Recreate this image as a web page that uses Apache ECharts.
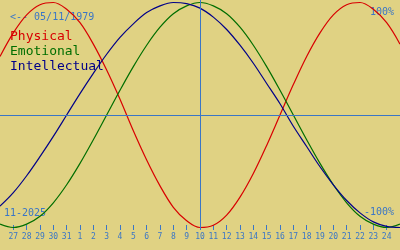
<!DOCTYPE html>
<html><head><meta charset="utf-8">
<script src="https://cdn.jsdelivr.net/npm/echarts@6/dist/echarts.min.js"></script>
<style>html,body{margin:0;padding:0;background:#e0d283}#c{width:400px;height:250px}</style>
</head><body><div id="c"></div>
<script>
var days = ['26','27','28','29','30','31','1','2','3','4','5','6','7','8','9','10','11','12','13','14','15','16','17','18','19','20','21','22','23','24','25'];
var physical = [0.52,0.73,0.89,0.98,1.00,0.94,0.82,0.63,0.40,0.14,-0.14,-0.40,-0.63,-0.82,-0.94,-1.00,-0.98,-0.89,-0.73,-0.52,-0.27,0,0.27,0.52,0.73,0.89,0.98,1.00,0.94,0.82,0.63];
var emotional = [-0.97,-1.00,-0.97,-0.90,-0.78,-0.62,-0.43,-0.22,0,0.22,0.43,0.62,0.78,0.90,0.97,1.00,0.97,0.90,0.78,0.62,0.43,0.22,0,-0.22,-0.43,-0.62,-0.78,-0.90,-0.97,-1.00,-0.97];
var intellectual = [-0.81,-0.69,-0.54,-0.37,-0.19,0,0.19,0.37,0.54,0.69,0.81,0.91,0.97,1.00,0.99,0.95,0.87,0.76,0.62,0.46,0.28,0.10,-0.10,-0.28,-0.46,-0.62,-0.76,-0.87,-0.95,-0.99,-1.00];
var today = '10';
var birthLabel = '<-- 05/11/1979';
var monthLabel = '11-2025';
var legendNames = ['Physical','Emotional','Intellectual'];

var chart = echarts.init(document.getElementById('c'), null, {renderer:'canvas'});
var blue = '#3a76c6';
var mono = 'DejaVu Sans Mono';
function ser(name, data, color, extra){
  var s = {name:name, type:'line', data:data, smooth:0.35, symbol:'none', clip:false,
    lineStyle:{color:color, width:1.2}, silent:true, animation:false, z:3};
  if (extra) s.markLine = extra;
  return s;
}
chart.setOption({
  backgroundColor:'#e0d283',
  animation:false,
  grid:{left:0, right:0, top:0, bottom:20},
  xAxis:{type:'category', data:days, boundaryGap:false,
    axisLine:{show:false, onZero:false},
    axisTick:{show:true, inside:true, length:5, lineStyle:{color:blue, width:1},
      interval:function(i){return i>0 && i<days.length-1;}},
    axisLabel:{show:true, margin:3, color:blue, fontFamily:mono, fontSize:8,
      interval:function(i){return i>0 && i<days.length-1;}},
    splitLine:{show:false}},
  yAxis:{type:'value', min:-1.022, max:1.022, show:false, splitLine:{show:false}},
  graphic:[
    {type:'text', x:10, y:17, style:{text:birthLabel, font:'10px "DejaVu Sans Mono"', fill:blue, textVerticalAlign:'middle'}},
    {type:'text', x:10, y:37, style:{text:legendNames[0], font:'13px "DejaVu Sans Mono"', fill:'#d80000', textVerticalAlign:'middle'}},
    {type:'text', x:10, y:52, style:{text:legendNames[1], font:'13px "DejaVu Sans Mono"', fill:'#006e00', textVerticalAlign:'middle'}},
    {type:'text', x:10, y:67, style:{text:legendNames[2], font:'13px "DejaVu Sans Mono"', fill:'#000088', textVerticalAlign:'middle'}},
    {type:'text', x:394, y:12, style:{text:'100%', font:'10px "DejaVu Sans Mono"', fill:blue, textAlign:'right', textVerticalAlign:'middle'}},
    {type:'text', x:394, y:212, style:{text:'-100%', font:'10px "DejaVu Sans Mono"', fill:blue, textAlign:'right', textVerticalAlign:'middle'}},
    {type:'text', x:4, y:213, style:{text:monthLabel, font:'10px "DejaVu Sans Mono"', fill:blue, textVerticalAlign:'middle'}}
  ],
  series:[
    ser('Physical', physical, '#d80000', {symbol:'none', silent:true, label:{show:false},
      lineStyle:{color:blue, type:'solid', width:1},
      data:[{xAxis:today},{yAxis:0}]}),
    ser('Emotional', emotional, '#006e00'),
    ser('Intellectual', intellectual, '#000088')
  ]
});
</script></body></html>
